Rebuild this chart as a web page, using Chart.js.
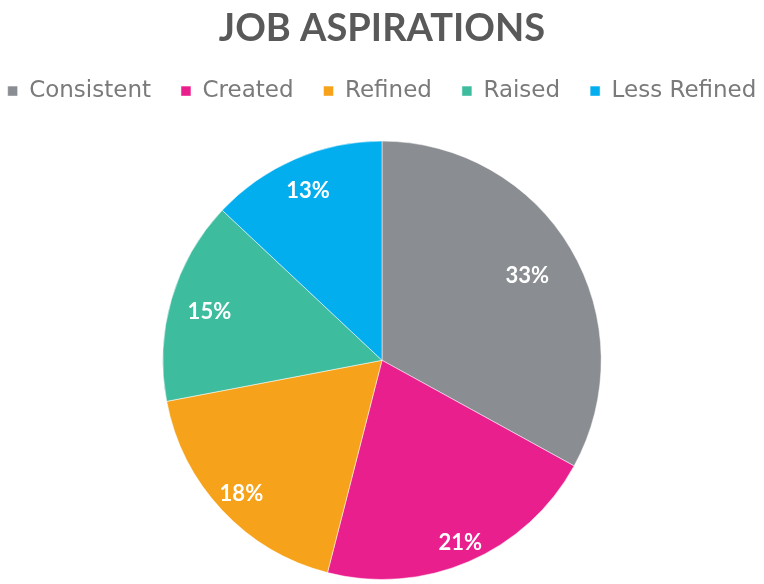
<!DOCTYPE html>
<html>
<head>
<meta charset="utf-8">
<title>Job Aspirations</title>
<script src="https://cdn.jsdelivr.net/npm/chart.js@4.4.1/dist/chart.umd.min.js"></script>
<style>
  html, body { margin: 0; padding: 0; background: #ffffff; }
  #wrap { width: 764px; height: 584px; }
</style>
</head>
<body>
<div id="wrap"><canvas id="aspirationsChart" width="764" height="584"></canvas></div>
<script>
// share of answers per category (percent)
const categories = ['Consistent', 'Created', 'Refined', 'Raised', 'Less Refined'];
const shares = [33, 21, 18, 15, 13];
const sliceColors = ['#8a8d91', '#ea1f8e', '#f6a31b', '#3dbc9e', '#03aeef'];

// how far out along the radius each percent label sits
const labelRadius = [0.77, 0.9, 0.88, 0.82, 0.85];

// Keep the legend on one wide row and leave room under it before the pie
const legendGap = {
  id: 'legendGap',
  beforeInit(chart) {
    const legend = chart.legend;
    const fit = legend.fit;
    const draw = legend.draw;
    legend.fit = function() {
      const realMax = this.maxWidth;
      this.maxWidth = realMax + 80;
      fit.call(this);
      this.maxWidth = realMax;
      this.width = Math.min(this.width, realMax);
      this.height += 28;
    };
    legend.draw = function() {
      // widen both sides equally so the row stays centred and does not wrap
      this.left -= 40;
      this.right += 40;
      draw.call(this);
      this.left += 40;
      this.right -= 40;
    };
  }
};

// Draw the percent text inside each slice
const sliceLabels = {
  id: 'sliceLabels',
  afterDatasetsDraw(chart) {
    const ctx = chart.ctx;
    const meta = chart.getDatasetMeta(0);
    ctx.save();
    ctx.font = 'bold 22px Lato';
    ctx.fillStyle = '#ffffff';
    ctx.textAlign = 'center';
    ctx.textBaseline = 'middle';
    meta.data.forEach((arc, i) => {
      const p = arc.getProps(['x', 'y', 'startAngle', 'endAngle', 'outerRadius'], true);
      const mid = (p.startAngle + p.endAngle) / 2;
      const r = p.outerRadius * labelRadius[i];
      ctx.fillText(shares[i] + '%', p.x + Math.cos(mid) * r, p.y + Math.sin(mid) * r + 2);
    });
    ctx.restore();
  }
};

new Chart(document.getElementById('aspirationsChart').getContext('2d'), {
  type: 'pie',
  data: {
    labels: categories,
    datasets: [{
      data: shares,
      backgroundColor: sliceColors,
      borderColor: 'rgba(255, 255, 255, 0.5)',
      borderWidth: 1
    }]
  },
  options: {
    responsive: false,
    animation: false,
    layout: {
      padding: { bottom: 4 }
    },
    plugins: {
      title: {
        display: true,
        text: 'JOB ASPIRATIONS',
        color: '#595959',
        font: { family: 'Lato', size: 38, weight: 'bold' },
        padding: { top: 6, bottom: -2 }
      },
      legend: {
        display: true,
        position: 'top',
        labels: {
          boxWidth: 10,
          boxHeight: 10,
          padding: 30,
          color: '#7a7a7a',
          font: { family: 'DejaVu Sans', size: 23 }
        }
      },
      tooltip: { enabled: false }
    }
  },
  plugins: [legendGap, sliceLabels]
});
</script>
</body>
</html>
